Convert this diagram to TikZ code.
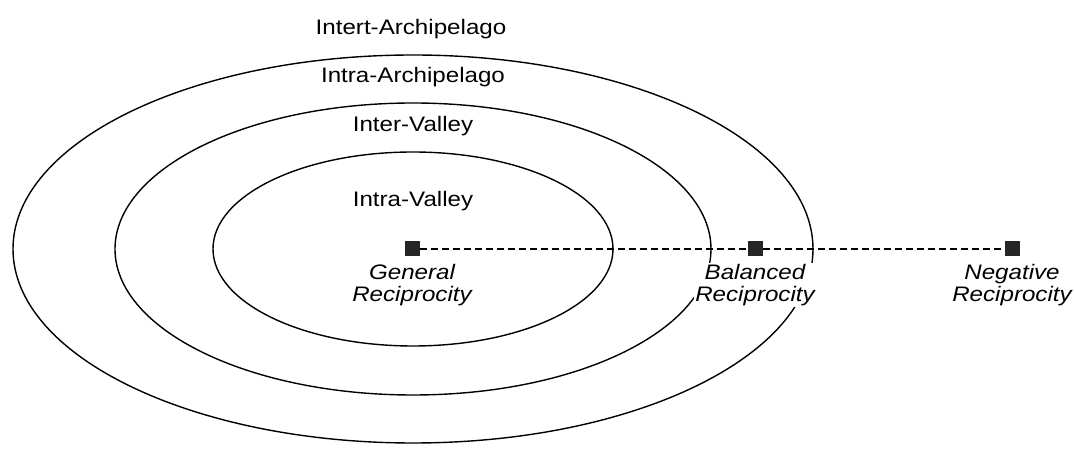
\documentclass[tikz,border=0pt]{standalone}
\usepackage{fontspec}
\setmainfont{Liberation Sans}[FakeStretch=1.15]
\usetikzlibrary{positioning}

\begin{document}
\begin{tikzpicture}[x=1pt, y=1pt,
  ring/.style={line width=1.4pt},
  zone/.style={anchor=base, font=\fontsize{21}{22.5}\selectfont},
  dot/.style={draw=none, fill=black!85, minimum size=15pt, inner sep=0pt},
  recip/.style={fill=white, inner sep=1pt, align=center,
    font=\fontsize{21}{22.5}\selectfont\itshape}]
\useasboundingbox (0,0) rectangle (1074,449);
% nested zones
\draw[ring] (413,200) ellipse [x radius=400pt, y radius=194pt];
\draw[ring] (413,200) ellipse [x radius=298pt, y radius=146pt];
\draw[ring] (413,200) ellipse [x radius=200pt, y radius=97pt];
\node[zone] (intertarch) at (411,414) {Intert-Archipelago};
\node[zone] (intraarch) at (413,366) {Intra-Archipelago};
\node[zone] (intervalley) at (413,317) {Inter-Valley};
\node[zone] (intravalley) at (413,242) {Intra-Valley};
% reciprocity points
\node[dot] (gen) at (412,200) {};
\node[dot] (bal) at (755,200) {};
\node[dot] (neg) at (1012,200) {};
\draw[line width=1.3pt, dash pattern=on 7pt off 4pt] (gen) -- (bal) -- (neg);
\node[recip, below=6pt of gen] (genlab) {General\\Reciprocity};
\node[recip, below=6pt of bal] (ballab) {Balanced\\Reciprocity};
\node[recip, below=6pt of neg] (neglab) {Negative\\Reciprocity};
\end{tikzpicture}
\end{document}
